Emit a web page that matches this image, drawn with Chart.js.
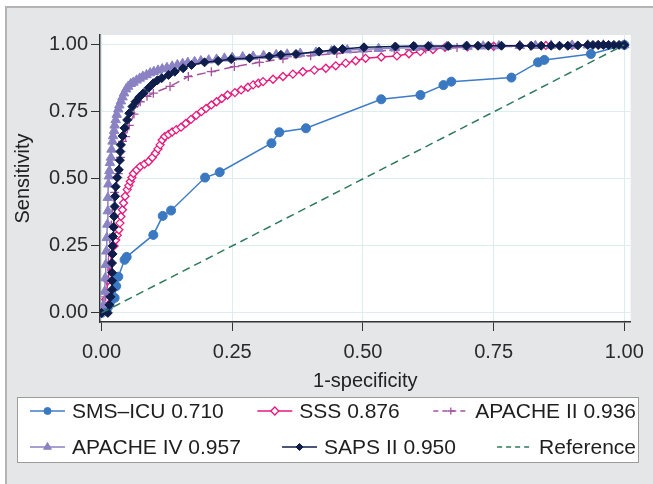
<!DOCTYPE html>
<html>
<head>
<meta charset="utf-8">
<script src="https://cdn.jsdelivr.net/npm/chart.js@4.4.1/dist/chart.umd.min.js"></script>
<style>
  html, body { margin: 0; padding: 0; background: #fff; }
  canvas { display: block; }
</style>
</head>
<body>
<canvas id="roc" width="653" height="484"></canvas>
<script>
// ROC curves (1-specificity, sensitivity)
const smsX = [0, 0.008, 0.012, 0.016, 0.025, 0.028, 0.032, 0.044, 0.048, 0.099, 0.117, 0.133, 0.198, 0.226, 0.325, 0.340, 0.391, 0.535, 0.610, 0.654, 0.669, 0.784, 0.835, 0.847, 0.936, 1];
const smsY = [0, 0.01, 0.02, 0.04, 0.056, 0.10, 0.135, 0.198, 0.209, 0.291, 0.362, 0.382, 0.505, 0.525, 0.633, 0.674, 0.689, 0.797, 0.813, 0.850, 0.863, 0.878, 0.935, 0.944, 0.966, 1];

const sssX = [0, 0.008, 0.012, 0.016, 0.02, 0.024, 0.027, 0.030, 0.033, 0.035, 0.037, 0.040, 0.042, 0.045, 0.049, 0.052, 0.055, 0.058, 0.061, 0.067, 0.074, 0.082, 0.09, 0.097, 0.103, 0.108, 0.112, 0.116, 0.121, 0.128, 0.135, 0.143, 0.152, 0.161, 0.171, 0.181, 0.191, 0.200, 0.210, 0.220, 0.230, 0.241, 0.255, 0.267, 0.28, 0.29, 0.30, 0.309, 0.328, 0.347, 0.366, 0.385, 0.407, 0.429, 0.448, 0.467, 0.486, 0.505, 0.535, 0.565, 0.588, 0.61, 0.634, 0.657, 0.70, 0.75, 0.80, 0.85, 0.90, 0.95, 1];
const sssY = [0, 0.05, 0.12, 0.18, 0.22, 0.25, 0.272, 0.29, 0.31, 0.335, 0.36, 0.385, 0.41, 0.435, 0.46, 0.475, 0.49, 0.505, 0.52, 0.533, 0.546, 0.555, 0.565, 0.58, 0.596, 0.612, 0.627, 0.645, 0.658, 0.666, 0.675, 0.684, 0.693, 0.707, 0.722, 0.737, 0.751, 0.763, 0.776, 0.788, 0.80, 0.813, 0.822, 0.832, 0.842, 0.851, 0.857, 0.863, 0.872, 0.882, 0.891, 0.90, 0.906, 0.913, 0.922, 0.932, 0.941, 0.95, 0.955, 0.959, 0.967, 0.975, 0.983, 0.991, 0.993, 0.995, 0.997, 0.998, 0.999, 1, 1];

const ap2X = [0, 0.008, 0.011, 0.013, 0.016, 0.02, 0.025, 0.032, 0.036, 0.040, 0.046, 0.053, 0.062, 0.074, 0.087, 0.099, 0.131, 0.166, 0.210, 0.254, 0.302, 0.347, 0.40, 0.45, 0.50, 0.56, 0.62, 0.68, 0.75, 0.82, 0.90, 1];
const ap2Y = [0, 0.06, 0.12, 0.19, 0.28, 0.37, 0.45, 0.52, 0.58, 0.64, 0.658, 0.70, 0.742, 0.788, 0.808, 0.82, 0.845, 0.882, 0.90, 0.919, 0.935, 0.948, 0.96, 0.968, 0.975, 0.98, 0.985, 0.99, 0.993, 0.996, 0.998, 1];

const ap4X = [0, 0.004, 0.006, 0.007, 0.008, 0.009, 0.010, 0.011, 0.012, 0.012, 0.013, 0.014, 0.015, 0.016, 0.018, 0.019, 0.021, 0.022, 0.024, 0.025, 0.027, 0.029, 0.032, 0.034, 0.037, 0.040, 0.043, 0.047, 0.051, 0.056, 0.061, 0.067, 0.073, 0.079, 0.086, 0.093, 0.1, 0.108, 0.116, 0.125, 0.135, 0.145, 0.155, 0.165, 0.178, 0.19, 0.205, 0.22, 0.235, 0.25, 0.27, 0.29, 0.31, 0.334, 0.355, 0.38, 0.41, 0.44, 0.47, 0.50, 0.53, 0.56, 0.60, 0.63, 0.66, 0.70, 0.73, 0.76, 0.80, 0.83, 0.86, 0.90, 0.93, 0.96, 1];
const ap4Y = [0, 0.03, 0.08, 0.13, 0.18, 0.23, 0.28, 0.33, 0.38, 0.43, 0.48, 0.51, 0.53, 0.56, 0.58, 0.61, 0.64, 0.66, 0.68, 0.70, 0.72, 0.74, 0.76, 0.775, 0.79, 0.805, 0.82, 0.835, 0.845, 0.855, 0.86, 0.868, 0.875, 0.882, 0.888, 0.895, 0.90, 0.905, 0.91, 0.915, 0.92, 0.925, 0.93, 0.934, 0.937, 0.94, 0.943, 0.946, 0.95, 0.953, 0.955, 0.957, 0.96, 0.963, 0.965, 0.968, 0.972, 0.977, 0.981, 0.984, 0.986, 0.988, 0.99, 0.992, 0.993, 0.994, 0.995, 0.996, 0.997, 0.997, 0.998, 0.998, 0.999, 0.999, 1, 1];

const sapsX = [0, 0.012, 0.015, 0.017, 0.02, 0.02, 0.02, 0.02, 0.021, 0.021, 0.022, 0.023, 0.024, 0.025, 0.026, 0.027, 0.03, 0.033, 0.035, 0.036, 0.037, 0.040, 0.044, 0.049, 0.053, 0.059, 0.065, 0.072, 0.080, 0.090, 0.099, 0.107, 0.115, 0.128, 0.140, 0.156, 0.172, 0.197, 0.223, 0.248, 0.283, 0.321, 0.343, 0.372, 0.416, 0.445, 0.461, 0.502, 0.562, 0.597, 0.625, 0.663, 0.698, 0.72, 0.74, 0.765, 0.80, 0.822, 0.841, 0.86, 0.876, 0.892, 0.911, 0.93, 0.94, 0.95, 0.96, 0.97, 0.98, 0.99, 1];
const sapsY = [0, 0, 0.03, 0.06, 0.086, 0.12, 0.15, 0.186, 0.22, 0.25, 0.285, 0.32, 0.36, 0.397, 0.435, 0.471, 0.505, 0.534, 0.57, 0.602, 0.627, 0.66, 0.69, 0.72, 0.745, 0.77, 0.788, 0.805, 0.82, 0.84, 0.857, 0.868, 0.876, 0.888, 0.90, 0.913, 0.925, 0.935, 0.94, 0.947, 0.95, 0.957, 0.963, 0.966, 0.975, 0.981, 0.985, 0.991, 0.994, 0.996, 0.996, 0.996, 0.997, 0.997, 0.997, 0.997, 0.997, 0.997, 0.997, 0.997, 0.997, 0.997, 0.998, 1, 1, 1, 1, 1, 1, 1, 1];

const refX = [0, 1];
const refY = [0, 1];

const seriesNames = ['SMS\u2013ICU 0.710', 'SSS 0.876', 'APACHE II 0.936', 'APACHE IV 0.957', 'SAPS II 0.950', 'Reference'];
const tickValues = [0, 0.25, 0.5, 0.75, 1];

const FONT = '"Liberation Sans", Arial, Helvetica, sans-serif';

function pts(xs, ys) {
    return xs.map((x, i) => ({ x: x, y: ys[i] }));
}

// background: grey frame + white plot area
const framePlugin = {
    id: 'frame',
    beforeDraw(chart) {
        const ctx = chart.ctx;
        const a = chart.chartArea;
        ctx.save();
        ctx.fillStyle = '#ffffff';
        ctx.fillRect(0, 0, chart.width, chart.height);
        ctx.fillStyle = '#e5e6e8';
        ctx.fillRect(6, 7, chart.width - 6, chart.height - 7);
        ctx.strokeStyle = '#b4b4b4';
        ctx.lineWidth = 2;
        ctx.beginPath();
        ctx.moveTo(6, chart.height);
        ctx.lineTo(6, 7);
        ctx.lineTo(chart.width, 7);
        ctx.stroke();
        ctx.fillStyle = '#ffffff';
        ctx.fillRect(a.left, a.top, a.right - a.left, a.bottom - a.top);
        ctx.restore();
    }
};

// legend: boxed, two rows of three, line + marker symbols
const legendPlugin = {
    id: 'boxLegend',
    afterDraw(chart) {
        const ctx = chart.ctx;
        const rows = [[0, 1, 2], [3, 4, 5]];
        const rowY = [411, 447];
        ctx.save();
        ctx.fillStyle = '#ffffff';
        ctx.fillRect(17, 397, 622, 66);
        ctx.strokeStyle = '#9c9c9c';
        ctx.lineWidth = 1;
        ctx.strokeRect(17.5, 397.5, 621, 65);
        ctx.font = '21px ' + FONT;
        ctx.textBaseline = 'middle';
        rows.forEach((row, r) => {
            const y = rowY[r];
            const widths = row.map(i => 35 + 7 + ctx.measureText(seriesNames[i]).width);
            const total = widths.reduce((s, w) => s + w, 0);
            const gap = (636 - 30 - total) / (row.length - 1);
            let x = 30;
            row.forEach((i, k) => {
                const ds = chart.data.datasets[i];
                ctx.strokeStyle = ds.borderColor;
                ctx.lineWidth = ds.borderWidth;
                ctx.setLineDash(ds.legendDash || []);
                ctx.beginPath();
                ctx.moveTo(x, y);
                ctx.lineTo(x + 35, y);
                ctx.stroke();
                ctx.setLineDash([]);
                if (ds.pointRadius > 0) {
                    ctx.fillStyle = ds.pointBackgroundColor;
                    ctx.strokeStyle = ds.pointBorderColor;
                    ctx.lineWidth = ds.pointBorderWidth;
                    Chart.helpers.drawPoint(ctx, {
                        pointStyle: ds.pointStyle,
                        radius: ds.legendRadius,
                        borderWidth: ds.pointBorderWidth,
                        rotation: 0
                    }, x + 17.5, y);
                }
                ctx.fillStyle = '#1e1e1e';
                ctx.fillText(seriesNames[i], x + 42, y + 1);
                x += widths[k] + gap;
            });
        });
        ctx.restore();
    }
};

const ctx = document.getElementById('roc').getContext('2d');

new Chart(ctx, {
    type: 'scatter',
    data: {
        datasets: [
            {
                label: seriesNames[0], data: pts(smsX, smsY), showLine: true, order: 6,
                borderColor: '#3f7cc6', borderWidth: 1.5,
                pointStyle: 'circle', pointRadius: 4.5, legendRadius: 3.5,
                pointBackgroundColor: '#3a78c2', pointBorderColor: '#3a78c2', pointBorderWidth: 1
            },
            {
                label: seriesNames[1], data: pts(sssX, sssY), showLine: true, order: 5,
                borderColor: '#e8197c', borderWidth: 1.5,
                pointStyle: 'rectRot', pointRadius: 4, legendRadius: 4,
                pointBackgroundColor: '#ffffff', pointBorderColor: '#e8197c', pointBorderWidth: 1.3
            },
            {
                label: seriesNames[2], data: pts(ap2X, ap2Y), showLine: true, order: 4,
                borderColor: '#a4529f', borderWidth: 1.5, borderDash: [9, 5], legendDash: [5, 4],
                pointStyle: 'cross', pointRadius: 4.5, legendRadius: 3.5,
                pointBackgroundColor: '#a4529f', pointBorderColor: '#a4529f', pointBorderWidth: 1.3
            },
            {
                label: seriesNames[3], data: pts(ap4X, ap4Y), showLine: true, order: 3,
                borderColor: '#8a82c3', borderWidth: 1.5,
                pointStyle: 'triangle', pointRadius: 5.5, legendRadius: 4.5,
                pointBackgroundColor: '#8a82c3', pointBorderColor: '#8a82c3', pointBorderWidth: 1
            },
            {
                label: seriesNames[4], data: pts(sapsX, sapsY), showLine: true, order: 2,
                borderColor: '#0e1d4b', borderWidth: 1.5,
                pointStyle: 'rectRot', pointRadius: 4.5, legendRadius: 3.5,
                pointBackgroundColor: '#0e1d4b', pointBorderColor: '#0e1d4b', pointBorderWidth: 1
            },
            {
                label: seriesNames[5], data: pts(refX, refY), showLine: true, order: 1,
                borderColor: '#2f7a5c', borderWidth: 1.5, borderDash: [8, 5], legendDash: [5, 4],
                pointRadius: 0
            }
        ]
    },
    options: {
        responsive: false,
        animation: false,
        layout: { padding: { left: 0, right: 19, top: 35, bottom: 87 } },
        plugins: {
            legend: { display: false },
            tooltip: { enabled: false }
        },
        scales: {
            x: {
                type: 'linear', min: -0.003, max: 1.012,
                afterBuildTicks: s => { s.ticks = tickValues.map(v => ({ value: v })); },
                afterFit: s => { s.height = 75; },
                ticks: { callback: v => v.toFixed(2), color: '#2a2a2a', font: { family: FONT, size: 20 }, padding: 9, maxRotation: 0 },
                grid: { color: '#dcedf0', lineWidth: 1, tickColor: '#333333', tickLength: 9 },
                border: { color: '#333333', width: 1.5 },
                title: { display: true, text: '1-specificity', color: '#222222', font: { family: FONT, size: 20 }, padding: { top: 0, bottom: 4 } }
            },
            y: {
                type: 'linear', min: -0.034, max: 1.037,
                afterBuildTicks: s => { s.ticks = tickValues.map(v => ({ value: v })); },
                afterFit: s => { s.width = 100; },
                ticks: { callback: v => v.toFixed(2), color: '#2a2a2a', font: { family: FONT, size: 20 }, padding: 3 },
                grid: { color: '#dcedf0', lineWidth: 1, tickColor: '#333333', tickLength: 9 },
                border: { color: '#333333', width: 1.5 },
                title: { display: true, text: 'Sensitivity', color: '#222222', font: { family: FONT, size: 20 }, padding: { top: 11, bottom: 0 } }
            }
        }
    },
    plugins: [framePlugin, legendPlugin]
});
</script>
</body>
</html>
